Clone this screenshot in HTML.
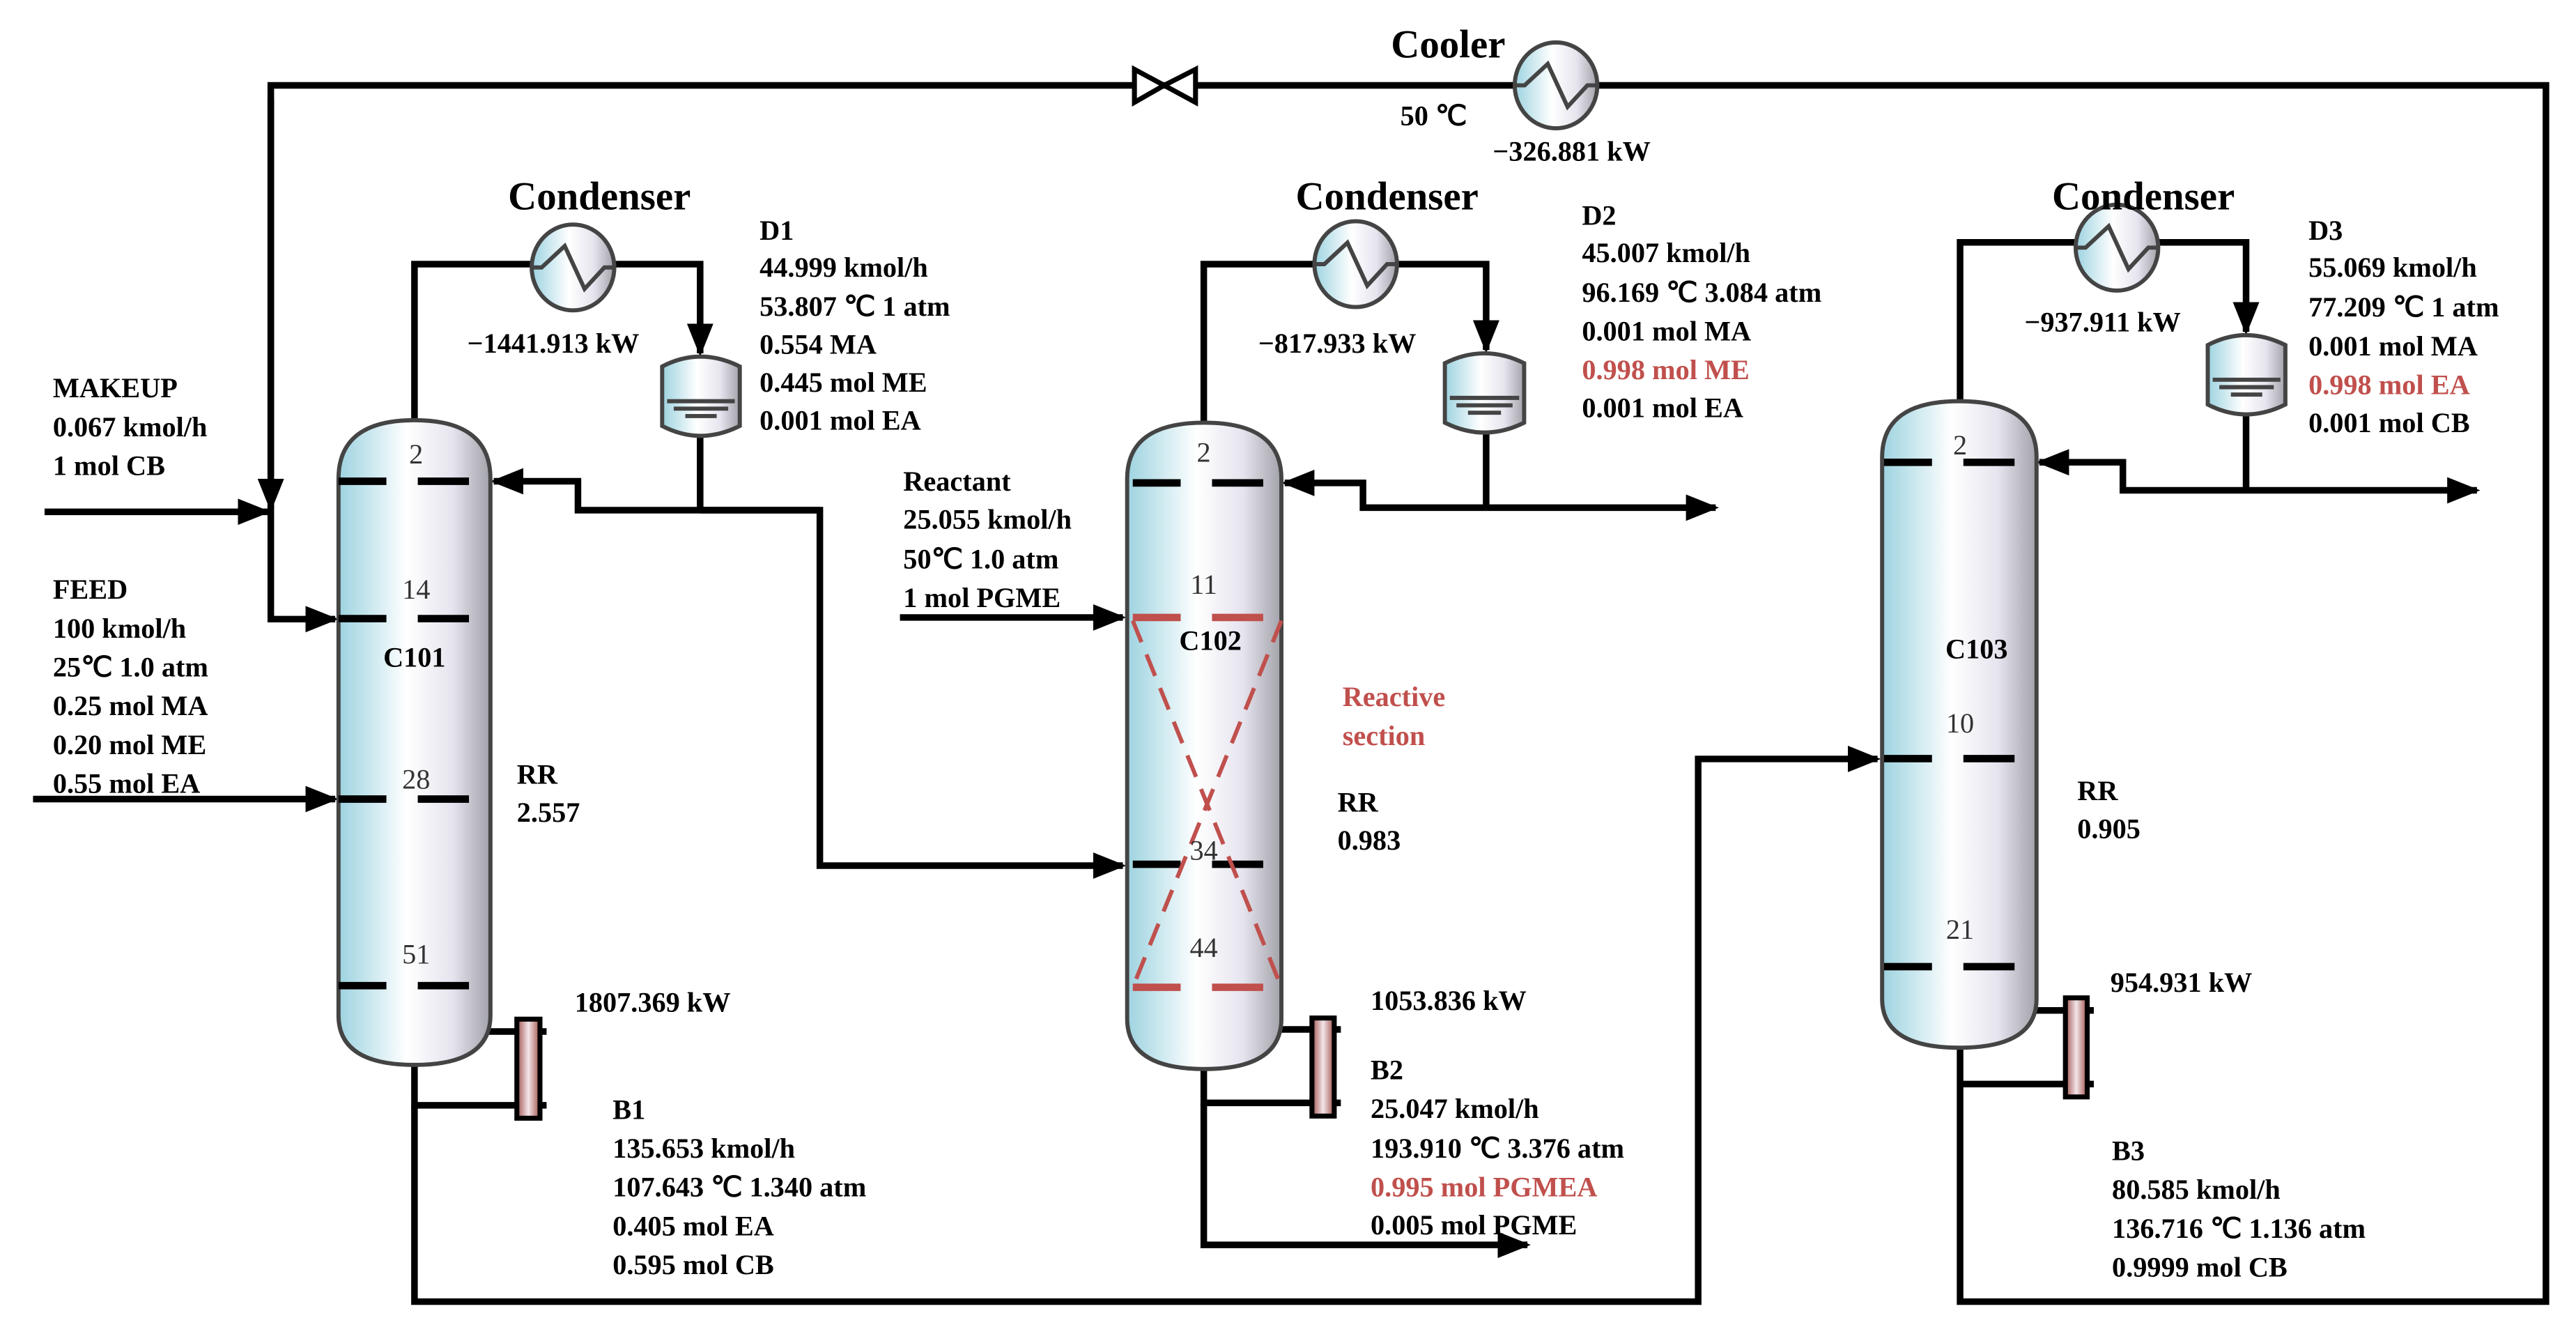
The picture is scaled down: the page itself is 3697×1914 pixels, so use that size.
<!DOCTYPE html>
<html><head><meta charset="utf-8"><style>
html,body{margin:0;padding:0;background:#fff}
svg{display:block}
text{font-family:"Liberation Serif",serif;font-weight:bold;font-size:17px;fill:#000;dominant-baseline:central}
.n{font-weight:normal;fill:#333;font-size:17px;text-anchor:middle}
.r{fill:#c0504d}
.big{font-size:24px}
</style></head><body>
<svg width="3697" height="1914" viewBox="0 0 1560 808" preserveAspectRatio="none" xmlns="http://www.w3.org/2000/svg">
<defs>
<linearGradient id="col" x1="0" x2="1" y1="0" y2="0">
<stop offset="0" stop-color="#9dd3e0"/><stop offset="0.45" stop-color="#ffffff"/><stop offset="0.75" stop-color="#e6e4ee"/><stop offset="1" stop-color="#a2a2aa"/>
</linearGradient>
<linearGradient id="reb" x1="0" x2="1" y1="0" y2="0">
<stop offset="0" stop-color="#a0524c"/><stop offset="0.5" stop-color="#f3e6ea"/><stop offset="1" stop-color="#a0524c"/>
</linearGradient>
<marker id="ah" markerWidth="5" markerHeight="4" refX="4.5" refY="2" orient="auto" markerUnits="strokeWidth">
<path d="M0,0 L5,2 L0,4 z" fill="#000"/>
</marker>
</defs>

<g stroke="#000" stroke-width="4" fill="none" stroke-linejoin="miter">
<polyline points="164,288 164,51.7 1541.8,51.7 1541.8,788.4 1187,788.4 1187,634"/>
<line x1="27" y1="310" x2="162" y2="310" marker-end="url(#ah)"/>
<line x1="164" y1="60" x2="164" y2="308" marker-end="url(#ah)"/>
<polyline points="164,306 164,375 203,375" marker-end="url(#ah)"/>
<line x1="20" y1="484" x2="203" y2="484" marker-end="url(#ah)"/>
<polyline points="251,256 251,160 322,160"/>
<polyline points="372,160 424,160 424,214" marker-end="url(#ah)"/>
<line x1="424" y1="264" x2="424" y2="309"/>
<polyline points="496.5,309 350,309 350,291.5 299,291.5" marker-end="url(#ah)"/>
<polyline points="424,309 496.5,309 496.5,524.3 680,524.3" marker-end="url(#ah)"/>
<line x1="296" y1="624.8" x2="331" y2="624.8"/>
<polyline points="251,645 251,669.5 331,669.5"/>
<polyline points="251,669.5 251,788.4 1028.4,788.4 1028.4,459.7 1137,459.7" marker-end="url(#ah)"/>
<line x1="545" y1="374" x2="680" y2="374" marker-end="url(#ah)"/>
<polyline points="729,257 729,160 796,160"/>
<polyline points="846,160 900,160 900,212" marker-end="url(#ah)"/>
<line x1="900" y1="262" x2="900" y2="307.5"/>
<polyline points="900,307.5 1039,307.5" marker-end="url(#ah)"/>
<polyline points="900,307.5 825.4,307.5 825.4,292.5 778,292.5" marker-end="url(#ah)"/>
<line x1="776" y1="623.5" x2="812" y2="623.5"/>
<polyline points="729,647 729,668 812,668"/>
<polyline points="729,668 729,754 925,754" marker-end="url(#ah)"/>
<polyline points="1187,244 1187,146.8 1257,146.8"/>
<polyline points="1307,146.8 1360.2,146.8 1360.2,201" marker-end="url(#ah)"/>
<line x1="1360.2" y1="250" x2="1360.2" y2="297"/>
<polyline points="1360.2,297 1500,297" marker-end="url(#ah)"/>
<polyline points="1360.2,297 1285.6,297 1285.6,280 1235,280" marker-end="url(#ah)"/>
<line x1="1233" y1="612" x2="1268" y2="612"/>
<line x1="1187" y1="656.6" x2="1268" y2="656.6"/>
</g>

<g stroke="#000" stroke-width="3" fill="#fff">
<path d="M687,42 L705,51.7 L687,62 z M724,42 L705,51.7 L724,62 z"/>
</g>

<g stroke="#444" stroke-width="2.5" fill="url(#col)">
<path d="M205,290 Q205,254.5 251,254.5 Q297,254.5 297,290 L297,615 Q297,645 251,645 Q205,645 205,615 z"/>
<path d="M682.6,290 Q682.6,256 729.3,256 Q776,256 776,290 L776,617 Q776,647.5 729.3,647.5 Q682.6,647.5 682.6,617 z"/>
<path d="M1139.8,277 Q1139.8,243 1186.5,243 Q1233.3,243 1233.3,277 L1233.3,605 Q1233.3,634.6 1186.5,634.6 Q1139.8,634.6 1139.8,605 z"/>
</g>

<g stroke="#000" stroke-width="3" fill="url(#reb)">
<rect x="313" y="617.3" width="14" height="60"/>
<rect x="794.5" y="616.6" width="13.5" height="59.4"/>
<rect x="1250.8" y="604.4" width="13.2" height="60"/>
</g>

<g stroke="#000" stroke-width="4.5">
<path d="M205,291.5h29M253,291.5h31M205,374.7h29M253,374.7h31M205,484h29M253,484h31M205,597h29M253,597h31"/>
<path d="M686,292.5h29M734,292.5h31M686,523.5h29M734,523.5h31"/>
<path d="M1141,280h29M1189,280h31M1141,459.5h29M1189,459.5h31M1141,585.5h29M1189,585.5h31"/>
</g>
<g stroke="#c0504d" stroke-width="4.5">
<path d="M686,374h29M734,374h31M686,598h29M734,598h31"/>
</g>
<g stroke="#c0504d" stroke-width="2.5" stroke-dasharray="14,8" fill="none">
<line x1="686" y1="376" x2="776" y2="598"/>
<line x1="776" y1="376" x2="686" y2="598"/>
</g>

<g stroke="#444" stroke-width="2.5" fill="url(#col)">
<ellipse cx="347" cy="162" rx="25" ry="26"/>
<ellipse cx="821" cy="160" rx="25" ry="26"/>
<ellipse cx="1282" cy="150" rx="25" ry="26"/>
<ellipse cx="942.3" cy="51.7" rx="25" ry="26"/>
</g>
<g stroke="#444" stroke-width="2.5" fill="none">
<polyline transform="translate(347,162)" points="-24,0 -19,0 -5,-13 7,13 19,0 24,0"/>
<polyline transform="translate(821,160)" points="-24,0 -19,0 -5,-13 7,13 19,0 24,0"/>
<polyline transform="translate(1282,150)" points="-24,0 -19,0 -5,-13 7,13 19,0 24,0"/>
<polyline transform="translate(942.3,51.7)" points="-24,0 -19,0 -5,-13 7,13 19,0 24,0"/>
</g>

<g stroke="#444" stroke-width="2.5" fill="url(#col)">
<path d="M401,222 Q424,210 448,222 L448,258 Q424,270 401,258 z"/>
<path d="M875,220 Q899,208 923,220 L923,256 Q899,268 875,256 z"/>
<path d="M1337,209 Q1360,197 1384,209 L1384,245 Q1360,257 1337,245 z"/>
</g>
<g stroke="#444" stroke-width="2.5">
<path d="M404,243h41M408,247.5h33M415,252h19"/>
<path d="M878,241h42M882,245.5h34M889,250h20"/>
<path d="M1340,230h41M1344,234.5h33M1351,239h19"/>
</g>

<text class="n" x="252" y="275">2</text>
<text class="n" x="252" y="357">14</text>
<text class="n" x="252" y="472">28</text>
<text class="n" x="252" y="578">51</text>
<text class="n" x="729" y="274">2</text>
<text class="n" x="729" y="354">11</text>
<text class="n" x="729" y="515">34</text>
<text class="n" x="729" y="574">44</text>
<text class="n" x="1187" y="269.5">2</text>
<text class="n" x="1187" y="438">10</text>
<text class="n" x="1187" y="563">21</text>

<text x="251" y="398" text-anchor="middle">C101</text>
<text x="733" y="388" text-anchor="middle">C102</text>
<text x="1197" y="393" text-anchor="middle">C103</text>

<text class="big" x="363" y="119" text-anchor="middle">Condenser</text>
<text class="big" x="840" y="119" text-anchor="middle">Condenser</text>
<text class="big" x="1298" y="119" text-anchor="middle">Condenser</text>
<text class="big" x="877" y="27" text-anchor="middle">Cooler</text>
<text x="848" y="70">50 ℃</text>
<text x="904" y="91.7">−326.881 kW</text>

<text x="283" y="208">−1441.913 kW</text>
<text x="762" y="208">−817.933 kW</text>
<text x="1226" y="195">−937.911 kW</text>

<text x="32" y="235">MAKEUP</text>
<text x="32" y="258.5">0.067 kmol/h</text>
<text x="32" y="282">1 mol CB</text>

<text x="32" y="357">FEED</text>
<text x="32" y="380.5">100 kmol/h</text>
<text x="32" y="404">25℃ 1.0 atm</text>
<text x="32" y="427.5">0.25 mol MA</text>
<text x="32" y="451">0.20 mol ME</text>
<text x="32" y="474.5">0.55 mol EA</text>

<text x="313" y="469">RR</text>
<text x="313" y="492">2.557</text>

<text x="460" y="139.5">D1</text>
<text x="460" y="162">44.999 kmol/h</text>
<text x="460" y="185.5">53.807 ℃ 1 atm</text>
<text x="460" y="208.5">0.554 MA</text>
<text x="460" y="231.5">0.445 mol ME</text>
<text x="460" y="254.5">0.001 mol EA</text>

<text x="547" y="291.5">Reactant</text>
<text x="547" y="314.5">25.055 kmol/h</text>
<text x="547" y="338.5">50℃ 1.0 atm</text>
<text x="547" y="362">1 mol PGME</text>

<text x="348" y="607">1807.369 kW</text>
<text x="371" y="672">B1</text>
<text x="371" y="695.5">135.653 kmol/h</text>
<text x="371" y="719">107.643 ℃ 1.340 atm</text>
<text x="371" y="742.5">0.405 mol EA</text>
<text x="371" y="766">0.595 mol CB</text>

<text x="958" y="130.5">D2</text>
<text x="958" y="153">45.007 kmol/h</text>
<text x="958" y="177">96.169 ℃ 3.084 atm</text>
<text x="958" y="200.5">0.001 mol MA</text>
<text x="958" y="224" class="r">0.998 mol ME</text>
<text x="958" y="247">0.001 mol EA</text>

<text x="813" y="422" class="r">Reactive</text>
<text x="813" y="445.5" class="r">section</text>
<text x="810" y="486">RR</text>
<text x="810" y="509">0.983</text>

<text x="830" y="606">1053.836 kW</text>
<text x="830" y="648">B2</text>
<text x="830" y="671.5">25.047 kmol/h</text>
<text x="830" y="695.5">193.910 ℃ 3.376 atm</text>
<text x="830" y="719" class="r">0.995 mol PGMEA</text>
<text x="830" y="742">0.005 mol PGME</text>

<text x="1398" y="139.5">D3</text>
<text x="1398" y="162">55.069 kmol/h</text>
<text x="1398" y="186">77.209 ℃ 1 atm</text>
<text x="1398" y="209.5">0.001 mol MA</text>
<text x="1398" y="233" class="r">0.998 mol EA</text>
<text x="1398" y="256">0.001 mol CB</text>

<text x="1258" y="479">RR</text>
<text x="1258" y="502">0.905</text>

<text x="1278" y="595">954.931 kW</text>
<text x="1279" y="697">B3</text>
<text x="1279" y="720.5">80.585 kmol/h</text>
<text x="1279" y="744">136.716 ℃ 1.136 atm</text>
<text x="1279" y="767.5">0.9999 mol CB</text>
</svg>
</body></html>
